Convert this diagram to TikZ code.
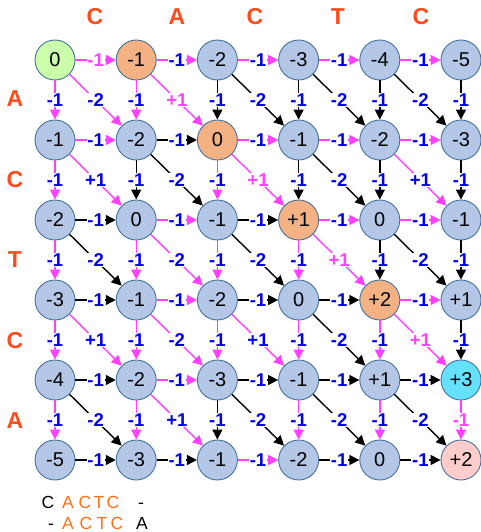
\documentclass[tikz,border=0pt]{standalone}
\usepackage{fontspec}
\setmainfont{Liberation Sans}
\usetikzlibrary{arrows.meta}
\definecolor{mag}{HTML}{FF40FF}
\definecolor{lblue}{HTML}{0000EE}
\definecolor{hdr}{HTML}{FF4A1C}
\definecolor{cellfillc}{HTML}{B4C7E7}
\definecolor{celllinec}{HTML}{41719C}
\definecolor{orfill}{HTML}{F4B183}
\definecolor{grfill}{HTML}{CCFFAA}
\definecolor{cyfill}{HTML}{66E0FF}
\definecolor{pkfill}{HTML}{FFCCCC}
\definecolor{seqor}{HTML}{FF7014}
\begin{document}
\begin{tikzpicture}[x=1pt,y=-1pt,
  cellbase/.style={circle,draw=celllinec,line width=0.9pt,minimum size=40pt,inner sep=0pt,font=\fontsize{20}{20}\selectfont},
  cellbl/.style={cellbase,fill=cellfillc},
  cellor/.style={cellbase,fill=orfill},
  cellgr/.style={cellbase,fill=grfill},
  cellcy/.style={cellbase,fill=cyfill},
  cellpk/.style={cellbase,fill=pkfill},
  edgebase/.style={line width=1.4pt,-{Triangle[length=10pt,width=10pt]}},
  edgem/.style={edgebase,draw=mag},
  edgeP/.style={edgebase,draw=mag},
  edgek/.style={edgebase,draw=black},
  labbase/.style={fill=white,inner sep=0.8pt,font=\fontsize{18.5}{18.5}\selectfont\bfseries},
  labm/.style={labbase,text=lblue},
  labk/.style={labbase,text=lblue},
  labP/.style={labbase,text=mag},
  hdrtext/.style={font=\fontsize{23}{23}\selectfont\bfseries,text=hdr,inner sep=0pt},
  seqtext/.style={font=\fontsize{17.5}{17.5}\selectfont,inner sep=0pt,anchor=base},
]
\useasboundingbox (0,0) rectangle (481,532);

% cells
\foreach \v/\s [count=\k from 0] in {
  0/gr,-1/or,-2/bl,-3/bl,-4/bl,-5/bl,
  -1/bl,-2/bl,0/or,-1/bl,-2/bl,-3/bl,
  -2/bl,0/bl,-1/bl,+1/or,0/bl,-1/bl,
  -3/bl,-1/bl,-2/bl,0/bl,+2/or,+1/bl,
  -4/bl,-2/bl,-3/bl,-1/bl,+1/bl,+3/cy,
  -5/bl,-3/bl,-1/bl,-2/bl,0/bl,+2/pk}{
  \pgfmathtruncatemacro\i{floor(\k/6)}
  \pgfmathtruncatemacro\j{mod(\k,6)}
  \node[cell\s] (n\i\j) at (55+81.2*\j, 60+80*\i) {\v};
}

% horizontal edges
\foreach \c [count=\k from 0] in {
  P,m,m,m,m,
  m,k,m,m,m,
  k,m,k,m,m,
  k,m,k,k,m,
  k,m,k,k,k,
  k,k,m,k,k}{
  \pgfmathtruncatemacro\i{floor(\k/5)}
  \pgfmathtruncatemacro\j{mod(\k,5)+1}
  \pgfmathtruncatemacro\jp{\j-1}
  \draw[edge\c] (n\i\jp) -- (n\i\j) node[midway,lab\c]{-1};
}

% vertical edges
\foreach \c [count=\k from 0] in {
  m,m,k,k,k,k,
  m,k,m,k,k,k,
  m,m,m,m,k,k,
  m,m,m,m,m,k,
  m,m,k,m,m,P}{
  \pgfmathtruncatemacro\i{floor(\k/6)+1}
  \pgfmathtruncatemacro\j{mod(\k,6)}
  \pgfmathtruncatemacro\ip{\i-1}
  \draw[edge\c] (n\ip\j) -- (n\i\j) node[midway,lab\c]{-1};
}

% diagonal edges
\foreach \c/\t [count=\k from 0] in {
  m/-2,P/+1,k/-2,k/-2,k/-2,
  m/+1,k/-2,P/+1,k/-2,m/+1,
  k/-2,m/-2,k/-2,P/+1,k/-2,
  m/+1,m/-2,m/+1,k/-2,P/+1,
  k/-2,m/+1,k/-2,k/-2,k/-2}{
  \pgfmathtruncatemacro\i{floor(\k/5)+1}
  \pgfmathtruncatemacro\j{mod(\k,5)+1}
  \pgfmathtruncatemacro\ip{\i-1}
  \pgfmathtruncatemacro\jp{\j-1}
  \draw[edge\c] (n\ip\jp) -- (n\i\j) node[midway,lab\c]{\t};
}

% headers
\foreach \t/\x [count=\k from 0] in {C/95,A/177,C/255,T/338,C/421}
  \node[hdrtext] (ch\k) at (\x,17) {\t};
\foreach \t [count=\k from 0] in {A,C,T,C,A}
  \node[hdrtext] (rh\k) at (15,99+80.5*\k) {\t};

% alignment
\node[seqtext] (a1) at (48,508) {C};
\node[seqtext,text=seqor] (a2) at (68,508) {A};
\node[seqtext,text=seqor] (a3) at (85,508) {C};
\node[seqtext,text=seqor] (a4) at (99,508) {T};
\node[seqtext,text=seqor] (a5) at (113,508) {C};
\node[seqtext] (a6) at (141,508) {-};
\node[seqtext] (b1) at (51,529) {-};
\node[seqtext,text=seqor] (b2) at (68,529) {A};
\node[seqtext,text=seqor] (b3) at (86,529) {C};
\node[seqtext,text=seqor] (b4) at (102,529) {T};
\node[seqtext,text=seqor] (b5) at (117,529) {C};
\node[seqtext] (b6) at (142,529) {A};
\end{tikzpicture}
\end{document}
